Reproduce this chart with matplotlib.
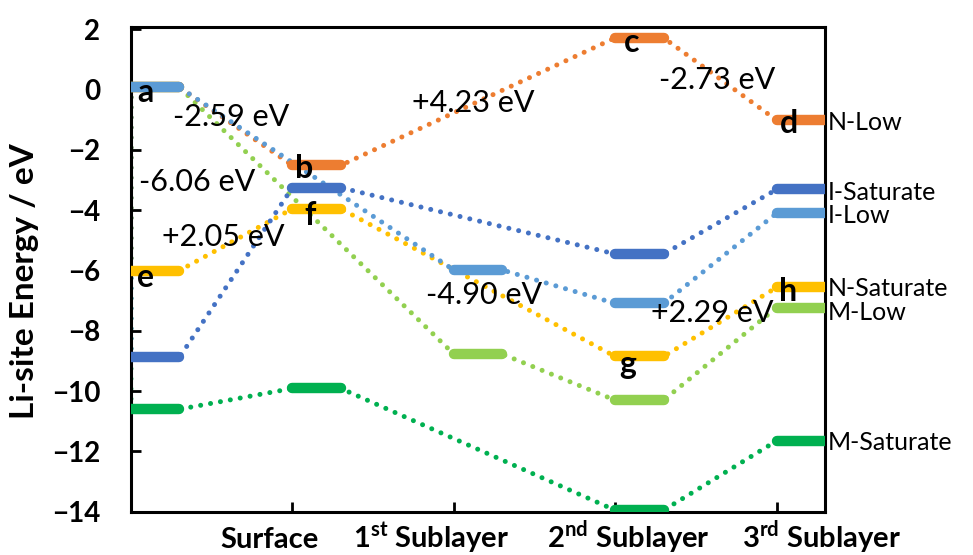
import matplotlib.pyplot as plt

plt.rcParams['font.family'] = ['Lato', 'DejaVu Sans']
plt.rcParams['mathtext.fontset'] = 'custom'
plt.rcParams['mathtext.rm'] = 'Lato'
plt.rcParams['mathtext.bf'] = 'Lato:bold'

# Li-site energies (eV) at each position: start, surface, 1st, 2nd, 3rd sublayer
# None = no site at that layer
ref_energy = 0.08
n_low = [0.08, -2.51, None, 1.72, -1.01]
n_saturate = [-6.00, -3.95, None, -8.85, -6.56]
i_low = [0.08, None, -5.98, -7.09, -4.10]
i_saturate = [-8.88, -3.25, None, -5.45, -3.31]
m_low = [0.08, None, -8.77, -10.30, -7.23]
m_saturate = [-10.60, -9.91, None, -13.95, -11.65]

series_names = ['M-Low', 'M-Saturate', 'N-Saturate', 'N-Low', 'I-Low', 'I-Saturate']
series_levels = [m_low, m_saturate, n_saturate, n_low, i_low, i_saturate]
series_colors = ['#92D050', '#00B050', '#FFC000', '#ED7D31', '#5B9BD5', '#4472C4']
# small vertical nudges so the right-hand names don't collide
name_nudge = [-0.15, -0.04, -0.02, -0.07, -0.06, -0.09]

layer_labels = ['Surface', '1$^{\\mathbf{st}}$ Sublayer',
                '2$^{\\mathbf{nd}}$ Sublayer', '3$^{\\mathbf{rd}}$ Sublayer']
layer_label_x = [0.86, 1.86, 3.08, 4.28]

# site letters and step energies
site_letters = ['a', 'b', 'c', 'd', 'e', 'f', 'g', 'h']
site_xy = [(0.09, -0.08), (1.07, -2.60), (3.10, 1.55), (4.08, -1.11),
           (0.09, -6.22), (1.11, -4.16), (3.08, -9.13), (4.07, -6.71)]
step_labels = ['-2.59 eV', '-6.06 eV', '+2.05 eV', '+4.23 eV',
               '-4.90 eV', '-2.73 eV', '+2.29 eV']
step_xy = [(0.62, -0.91), (0.41, -3.07), (0.57, -4.89), (2.12, -0.44),
           (2.19, -6.81), (3.63, 0.32), (3.60, -7.41)]

w = 0.3  # width of a level bar in layer units

fig = plt.figure(figsize=(9.73, 5.55), dpi=100)
ax = fig.add_axes([0.1346, 0.078, 0.7133, 0.8739])

# dotted connectors first
for levels, col in zip(series_levels, series_colors):
    xs, ys = [0], [ref_energy]
    for i, v in enumerate(levels):
        if v is None:
            continue
        xs += [i, i + w]
        ys += [v, v]
    ax.plot(xs, ys, color=col, lw=3.6, linestyle=(0, (0.01, 2.0)),
            dash_capstyle='round', zorder=2)

# level bars on top
for levels, col in zip(series_levels, series_colors):
    for i, v in enumerate(levels):
        if v is None:
            continue
        ax.plot([i, i + w], [v, v], color=col, lw=7.5,
                solid_capstyle='round', zorder=3)

# series names at the right edge
for name, levels, dy in zip(series_names, series_levels, name_nudge):
    ax.text(4.315, levels[-1] + dy, name, fontsize=18, ha='left', va='center',
            clip_on=False)

for t, (x, y) in zip(site_letters, site_xy):
    ax.text(x, y, t, fontsize=23, fontweight='bold', ha='center', va='center',
            zorder=5)

for t, (x, y) in zip(step_labels, step_xy):
    ax.text(x, y, t, fontsize=22, ha='center', va='center', zorder=5)

ax.set_xlim(0, 4.30)
ax.set_ylim(-14, 2.09)
ax.set_yticks(range(-14, 3, 2))
ax.set_xticks([0, 1, 2, 3, 4])
ax.set_xticklabels([])
for lab, x in zip(layer_labels, layer_label_x):
    ax.text(x, -0.075, lab, transform=ax.get_xaxis_transform(), fontsize=21,
            fontweight='bold', ha='center', va='baseline')

ax.tick_params(axis='y', direction='in', length=7, width=2, pad=22,
               labelsize=20)
ax.tick_params(axis='x', direction='in', length=7, width=2)
for lbl in ax.get_yticklabels():
    lbl.set_fontweight('bold')
for sp in ax.spines.values():
    sp.set_linewidth(2.2)

fig.text(25 / 973, 1 - 281 / 555, 'Li-site Energy / eV', rotation=90,
         fontsize=24, fontweight='bold', ha='center', va='center')

fig.savefig('out.png', dpi=100)
